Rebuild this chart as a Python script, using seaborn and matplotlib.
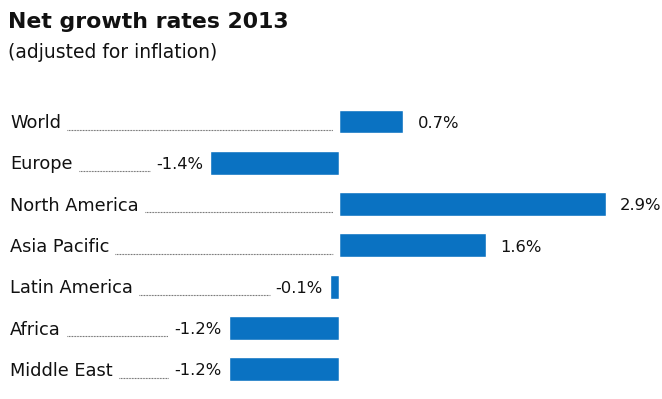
import matplotlib
matplotlib.use("Agg")
import matplotlib.pyplot as plt
import matplotlib.transforms as mtransforms
import seaborn as sns

regions = ["World", "Europe", "North America", "Asia Pacific",
           "Latin America", "Africa", "Middle East"]
growth = [0.7, -1.4, 2.9, 1.6, -0.1, -1.2, -1.2]

title = "Net growth rates 2013"
subtitle = "(adjusted for inflation)"
bar_color = "#0a72c2"

sns.set_style("white")
plt.rcParams["font.family"] = ["DejaVu Sans"]

W, H = 662, 399
fig = plt.figure(figsize=(W / 100, H / 100), dpi=100)
ax = fig.add_axes([0, 0, 1, 1])

sns.barplot(x=growth, y=regions, color=bar_color, width=0.58,
            saturation=1, ax=ax)

# zero at x=339px, ~92px per percentage point
px_per = 92.0
zero_px = 339
ax.set_xlim(-zero_px / px_per, (W - zero_px) / px_per)
first_px, step_px = 121.5, 41.3
ax.set_ylim((H - first_px) / step_px, -first_px / step_px)
ax.axis("off")

fig.text(8 / W, 1 - 22 / H, title, fontsize=15.8, fontweight="bold",
         va="center", ha="left", color="#111111")
fig.text(8 / W, 1 - 53 / H, subtitle, fontsize=13.5,
         va="center", ha="left", color="#111111")

trans = mtransforms.blended_transform_factory(ax.transAxes, ax.transData)
renderer = fig.canvas.get_renderer()
fs = 12.8
vfs = 11.8
for i, (name, v) in enumerate(zip(regions, growth)):
    t = ax.text(10 / W, i + 0.04, name, fontsize=fs, va="center", ha="left",
                transform=trans, color="#111111")
    name_end = t.get_window_extent(renderer).x1
    lab = f"{v:.1f}%"
    if v >= 0:
        vt = ax.text(v + 14 / px_per, i + 0.04, lab, fontsize=vfs,
                     va="center", ha="left", color="#111111")
        dot_end = zero_px - 6
    else:
        vt = ax.text(v - 7 / px_per, i + 0.04, lab, fontsize=vfs,
                     va="center", ha="right", color="#111111")
        dot_end = vt.get_window_extent(renderer).x0 - 6
    dot_start = name_end + 6
    ax.plot([dot_start / W, dot_end / W], [i + 0.2, i + 0.2],
            transform=trans, color="#555555", lw=0.8,
            linestyle=(0, (0.7, 0.7)))

ax.axvline(0, color="white", lw=0.8)

fig.savefig("out.png", dpi=100)
